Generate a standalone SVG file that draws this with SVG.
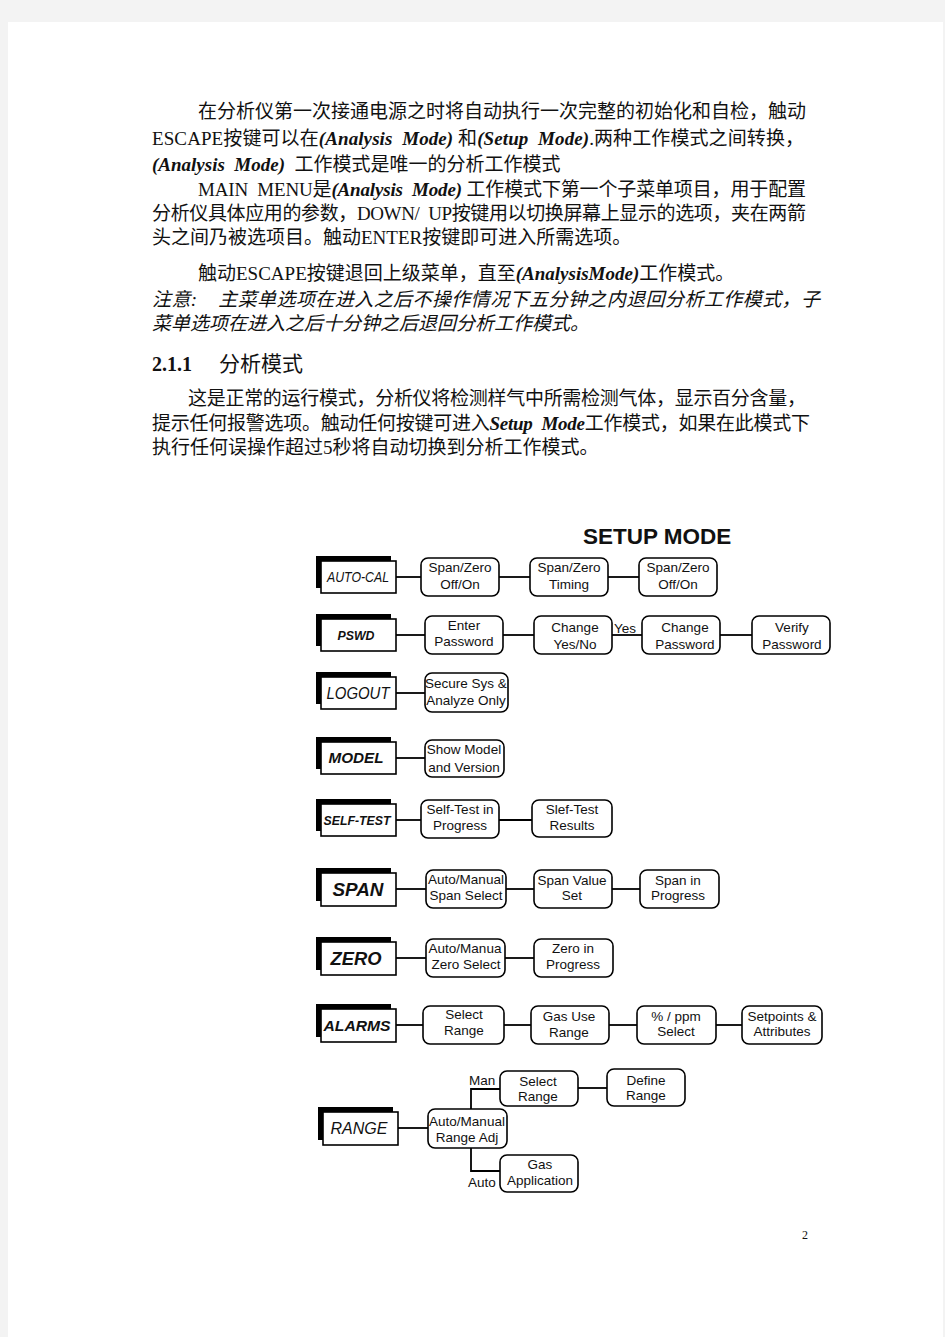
<svg xmlns="http://www.w3.org/2000/svg" width="945" height="1337" viewBox="0 0 945 1337">
<style>
.body{font-family:"Liberation Serif","Noto Sans CJK SC",serif;font-size:19px;fill:#111;white-space:pre}
.bi{font-weight:bold;font-style:italic}
.it{font-style:italic}
.node rect.n{fill:#fff;stroke:#000;stroke-width:1.6}
.nt{font-family:"Liberation Sans",Arial,sans-serif;font-size:13.5px;text-anchor:middle;fill:#111}
.sh{fill:#000}
.bx{fill:#fff;stroke:#000;stroke-width:1.6}
.lt{font-family:"Liberation Sans",Arial,sans-serif;font-style:italic;font-weight:bold;fill:#111;text-anchor:middle}
.conn line,.conn path{stroke:#000;stroke-width:1.8;fill:none}
.lab{font-family:"Liberation Sans",Arial,sans-serif;font-size:13.5px;fill:#111}
</style>
<rect x="0" y="0" width="945" height="1337" fill="#f3f3f3"/>
<rect x="8" y="22" width="935" height="1315" fill="#fff"/>

<g id="text">
<text class="body" x="198" y="118" textLength="608" lengthAdjust="spacing">在分析仪第一次接通电源之时将自动执行一次完整的初始化和自检，触动</text>
<text class="body" x="152" y="145" textLength="652" lengthAdjust="spacing">ESCAPE按键可以在<tspan class="bi">(Analysis  Mode)</tspan> 和<tspan class="bi">(Setup  Mode)</tspan>.两种工作模式之间转换，</text>
<text class="body" x="152" y="171"><tspan class="bi">(Analysis  Mode)</tspan>  工作模式是唯一的分析工作模式</text>
<text class="body" x="198" y="196" textLength="608" lengthAdjust="spacing">MAIN  MENU是<tspan class="bi">(Analysis  Mode)</tspan> 工作模式下第一个子菜单项目，用于配置</text>
<text class="body" x="152" y="220" textLength="654" lengthAdjust="spacing">分析仪具体应用的参数，DOWN/  UP按键用以切换屏幕上显示的选项，夹在两箭</text>
<text class="body" x="152" y="244">头之间乃被选项目。触动ENTER按键即可进入所需选项。</text>
<text class="body" x="198" y="280">触动ESCAPE按键退回上级菜单，直至<tspan class="bi">(AnalysisMode)</tspan>工作模式。</text>
<text class="body it" x="152" y="306" textLength="668" lengthAdjust="spacing">注意:    主菜单选项在进入之后不操作情况下五分钟之内退回分析工作模式，子</text>
<text class="body it" x="152" y="330">菜单选项在进入之后十分钟之后退回分析工作模式。</text>
<text class="body" x="152" y="371" style="font-size:20px;font-weight:bold">2.1.1</text>
<text class="body" x="219" y="371" style="font-size:21px">分析模式</text>
<text class="body" x="188" y="405" textLength="618" lengthAdjust="spacing">这是正常的运行模式，分析仪将检测样气中所需检测气体，显示百分含量，</text>
<text class="body" x="152" y="430" textLength="658" lengthAdjust="spacing">提示任何报警选项。触动任何按键可进入<tspan class="bi">Setup  Mode</tspan>工作模式，如果在此模式下</text>
<text class="body" x="152" y="454">执行任何误操作超过5秒将自动切换到分析工作模式。</text>
<text class="body" x="802" y="1239" style="font-size:12px">2</text>
<text x="583" y="544" style="font-family:'Liberation Sans',Arial,sans-serif;font-weight:bold;font-size:22.5px;fill:#111">SETUP MODE</text>
</g>

<g class="conn" id="connectors">
<line x1="396" y1="577" x2="421" y2="577"/>
<line x1="499" y1="577" x2="530" y2="577"/>
<line x1="608" y1="577" x2="639" y2="577"/>
<line x1="396" y1="635" x2="425" y2="635"/>
<line x1="503" y1="635" x2="534" y2="635"/>
<line x1="612" y1="635" x2="642" y2="635"/>
<line x1="720" y1="635" x2="752" y2="635"/>
<line x1="396" y1="693" x2="425" y2="693"/>
<line x1="396" y1="758" x2="425" y2="758"/>
<line x1="396" y1="820" x2="421" y2="820"/>
<line x1="499" y1="820" x2="532" y2="820"/>
<line x1="396" y1="889" x2="426" y2="889"/>
<line x1="506" y1="889" x2="534" y2="889"/>
<line x1="612" y1="889" x2="640" y2="889"/>
<line x1="396" y1="958" x2="426" y2="958"/>
<line x1="505" y1="958" x2="534" y2="958"/>
<line x1="396" y1="1025" x2="423" y2="1025"/>
<line x1="504" y1="1025" x2="531" y2="1025"/>
<line x1="609" y1="1025" x2="637" y2="1025"/>
<line x1="716" y1="1025" x2="742" y2="1025"/>
<line x1="398" y1="1128" x2="428" y2="1128"/>
<path d="M471 1109 V1089 H500"/>
<line x1="578" y1="1088" x2="607" y2="1088"/>
<path d="M471 1148 V1171 H500"/>
<text class="lab" x="614" y="633">Yes</text>
<text class="lab" x="469" y="1085">Man</text>
<text class="lab" x="468" y="1187">Auto</text>
</g>

<!-- left menu boxes -->
<g id="autocal"><rect class="sh" x="316" y="556" width="75" height="32"/><rect class="bx" x="321" y="561" width="75" height="32"/><text class="lt" x="358" y="582" style="font-size:14px;font-weight:normal" textLength="62" lengthAdjust="spacingAndGlyphs">AUTO-CAL</text></g>
<g id="pswd"><rect class="sh" x="316" y="614" width="75" height="32"/><rect class="bx" x="321" y="619" width="75" height="32"/><text class="lt" x="356" y="640" style="font-size:13px" textLength="37" lengthAdjust="spacingAndGlyphs">PSWD</text></g>
<g id="logout"><rect class="sh" x="316" y="672" width="75" height="32"/><rect class="bx" x="321" y="677" width="75" height="32"/><text class="lt" x="358" y="699" style="font-size:16px;font-weight:normal" textLength="63" lengthAdjust="spacingAndGlyphs">LOGOUT</text></g>
<g id="model"><rect class="sh" x="316" y="737" width="75" height="32"/><rect class="bx" x="321" y="742" width="75" height="32"/><text class="lt" x="356" y="763" style="font-size:15px" textLength="55" lengthAdjust="spacingAndGlyphs">MODEL</text></g>
<g id="selftest"><rect class="sh" x="316" y="799" width="75" height="32"/><rect class="bx" x="321" y="804" width="75" height="32"/><text class="lt" x="357" y="825" style="font-size:13px" textLength="67" lengthAdjust="spacingAndGlyphs">SELF-TEST</text></g>
<g id="span"><rect class="sh" x="316" y="868" width="75" height="33"/><rect class="bx" x="321" y="873" width="75" height="33"/><text class="lt" x="358" y="896" style="font-size:19px" textLength="51" lengthAdjust="spacingAndGlyphs">SPAN</text></g>
<g id="zero"><rect class="sh" x="316" y="937" width="75" height="33"/><rect class="bx" x="321" y="942" width="75" height="33"/><text class="lt" x="356" y="965" style="font-size:19px" textLength="51" lengthAdjust="spacingAndGlyphs">ZERO</text></g>
<g id="alarms"><rect class="sh" x="316" y="1004" width="75" height="33"/><rect class="bx" x="321" y="1009" width="75" height="33"/><text class="lt" x="357" y="1031" style="font-size:15.5px" textLength="67" lengthAdjust="spacingAndGlyphs">ALARMS</text></g>
<g id="range"><rect class="sh" x="318" y="1107" width="75" height="33"/><rect class="bx" x="323" y="1112" width="75" height="33"/><text class="lt" x="359" y="1134" style="font-size:16px;font-weight:normal" textLength="57" lengthAdjust="spacingAndGlyphs">RANGE</text></g>

<!-- rounded nodes -->
<g class="node" id="ac1"><rect class="n" x="421" y="558" width="78" height="38" rx="7"/><text class="nt" x="460" y="572">Span/Zero</text><text class="nt" x="460" y="589">Off/On</text></g>
<g class="node" id="ac2"><rect class="n" x="530" y="558" width="78" height="38" rx="7"/><text class="nt" x="569" y="572">Span/Zero</text><text class="nt" x="569" y="589">Timing</text></g>
<g class="node" id="ac3"><rect class="n" x="639" y="558" width="78" height="38" rx="7"/><text class="nt" x="678" y="572">Span/Zero</text><text class="nt" x="678" y="589">Off/On</text></g>

<g class="node" id="pw1"><rect class="n" x="425" y="616" width="78" height="38" rx="7"/><text class="nt" x="464" y="630">Enter</text><text class="nt" x="464" y="646">Password</text></g>
<g class="node" id="pw2"><rect class="n" x="534" y="616" width="78" height="38" rx="7"/><text class="nt" x="575" y="632">Change</text><text class="nt" x="575" y="649">Yes/No</text></g>
<g class="node" id="pw3"><rect class="n" x="642" y="616" width="78" height="38" rx="7"/><text class="nt" x="685" y="632">Change</text><text class="nt" x="685" y="649">Password</text></g>
<g class="node" id="pw4"><rect class="n" x="752" y="616" width="78" height="38" rx="7"/><text class="nt" x="792" y="632">Verify</text><text class="nt" x="792" y="649">Password</text></g>

<g class="node" id="lo1"><rect class="n" x="425" y="673" width="83" height="39" rx="7"/><text class="nt" x="466" y="688">Secure Sys &amp;</text><text class="nt" x="466" y="705">Analyze Only</text></g>
<g class="node" id="mo1"><rect class="n" x="425" y="740" width="79" height="37" rx="7"/><text class="nt" x="464" y="754">Show Model</text><text class="nt" x="464" y="772">and Version</text></g>

<g class="node" id="st1"><rect class="n" x="421" y="800" width="78" height="38" rx="7"/><text class="nt" x="460" y="814">Self-Test in</text><text class="nt" x="460" y="830">Progress</text></g>
<g class="node" id="st2"><rect class="n" x="532" y="800" width="80" height="37" rx="7"/><text class="nt" x="572" y="814">Slef-Test</text><text class="nt" x="572" y="830">Results</text></g>

<g class="node" id="sp1"><rect class="n" x="426" y="870" width="80" height="38" rx="7"/><text class="nt" x="466" y="884">Auto/Manual</text><text class="nt" x="466" y="900">Span Select</text></g>
<g class="node" id="sp2"><rect class="n" x="534" y="870" width="78" height="38" rx="7"/><text class="nt" x="572" y="885">Span Value</text><text class="nt" x="572" y="900">Set</text></g>
<g class="node" id="sp3"><rect class="n" x="640" y="870" width="79" height="38" rx="7"/><text class="nt" x="678" y="885">Span in</text><text class="nt" x="678" y="900">Progress</text></g>

<g class="node" id="ze1"><rect class="n" x="426" y="939" width="79" height="38" rx="7"/><text class="nt" x="465" y="953">Auto/Manua</text><text class="nt" x="466" y="969">Zero Select</text></g>
<g class="node" id="ze2"><rect class="n" x="534" y="939" width="79" height="38" rx="7"/><text class="nt" x="573" y="953">Zero in</text><text class="nt" x="573" y="969">Progress</text></g>

<g class="node" id="al1"><rect class="n" x="423" y="1006" width="81" height="38" rx="7"/><text class="nt" x="464" y="1019">Select</text><text class="nt" x="464" y="1035">Range</text></g>
<g class="node" id="al2"><rect class="n" x="531" y="1006" width="78" height="38" rx="7"/><text class="nt" x="569" y="1021">Gas Use</text><text class="nt" x="569" y="1037">Range</text></g>
<g class="node" id="al3"><rect class="n" x="637" y="1006" width="79" height="38" rx="7"/><text class="nt" x="676" y="1021">% / ppm</text><text class="nt" x="676" y="1036">Select</text></g>
<g class="node" id="al4"><rect class="n" x="742" y="1006" width="80" height="38" rx="7"/><text class="nt" x="782" y="1021">Setpoints &amp;</text><text class="nt" x="782" y="1036">Attributes</text></g>

<g class="node" id="ra1"><rect class="n" x="428" y="1109" width="79" height="39" rx="7"/><text class="nt" x="467" y="1126">Auto/Manual</text><text class="nt" x="467" y="1142">Range Adj</text></g>
<g class="node" id="ra2"><rect class="n" x="500" y="1071" width="78" height="35" rx="7"/><text class="nt" x="538" y="1086">Select</text><text class="nt" x="538" y="1101">Range</text></g>
<g class="node" id="ra3"><rect class="n" x="607" y="1069" width="78" height="37" rx="7"/><text class="nt" x="646" y="1085">Define</text><text class="nt" x="646" y="1100">Range</text></g>
<g class="node" id="ra4"><rect class="n" x="500" y="1155" width="78" height="37" rx="7"/><text class="nt" x="540" y="1169">Gas</text><text class="nt" x="540" y="1185">Application</text></g>
</svg>
